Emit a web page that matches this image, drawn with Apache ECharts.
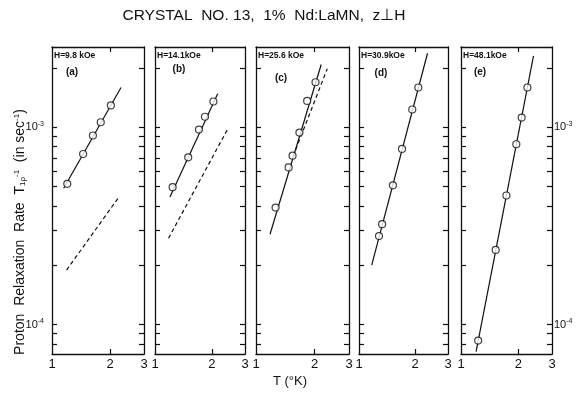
<!DOCTYPE html>
<html>
<head>
<meta charset="utf-8">
<script src="https://cdn.jsdelivr.net/npm/echarts@6/dist/echarts.min.js"></script>
<style>
  html, body { margin: 0; padding: 0; background: #fff; }
  #chart { width: 578px; height: 394px; }
</style>
</head>
<body>
<div id="chart"></div>
<script>
// panel captions
const fields = ['H=9.8 kOe', 'H=14.1kOe', 'H=25.6 kOe', 'H=30.9kOe', 'H=48.1kOe'];
const letters = ['(a)', '(b)', '(c)', '(d)', '(e)'];

// measured points: T (K) and rate (sec^-1)
const tempA = [1.20, 1.45, 1.63, 1.79, 2.02];
const rateA = [5.17e-4, 7.32e-4, 9.08e-4, 1.06e-3, 1.29e-3];
const tempB = [1.24, 1.50, 1.71, 1.84, 2.04];
const rateB = [4.97e-4, 7.04e-4, 9.73e-4, 1.13e-3, 1.35e-3];
const tempC = [1.26, 1.47, 1.54, 1.67, 1.83, 2.02];
const rateC = [3.92e-4, 6.26e-4, 7.18e-4, 9.40e-4, 1.36e-3, 1.69e-3];
const tempD = [1.28, 1.33, 1.52, 1.70, 1.93, 2.08];
const rateD = [2.81e-4, 3.23e-4, 5.08e-4, 7.77e-4, 1.23e-3, 1.59e-3];
const tempE = [1.23, 1.52, 1.73, 1.95, 2.08, 2.23];
const rateE = [8.3e-5, 2.39e-4, 4.51e-4, 8.20e-4, 1.12e-3, 1.59e-3];

// solid fitted lines (end points)
const fitTempA = [1.15, 2.28], fitRateA = [4.91e-4, 1.59e-3];
const fitTempB = [1.20, 2.15], fitRateB = [4.43e-4, 1.48e-3];
const fitTempC = [1.18, 2.16], fitRateC = [2.87e-4, 2.08e-3];
const fitTempD = [1.17, 2.33], fitRateD = [2.00e-4, 2.37e-3];
const fitTempE = [1.20, 2.40], fitRateE = [7.3e-5, 2.30e-3];

// dashed lines (end points)
const dashTempA = [1.19, 2.23], dashRateA = [1.89e-4, 4.45e-4];
const dashTempB = [1.18, 2.42], dashRateB = [2.74e-4, 9.73e-4];
const dashTempC = [1.55, 2.32], dashRateC = [7.12e-4, 1.98e-3];

// axis ticks / labels
const yTicks = [8e-5, 9e-5, 1e-4, 2e-4, 3e-4, 4e-4, 5e-4, 6e-4, 7e-4, 8e-4, 9e-4, 1e-3, 2e-3];
const yLabels = [1e-4, 1e-3];
const xTicks = [2];
const xLabels = [1, 2, 3];

function pairs(xs, ys) {
	return xs.map((x, i) => [x, ys[i]]);
}

const panels = [
	{ pts: pairs(tempA, rateA), fit: pairs(fitTempA, fitRateA), dash: pairs(dashTempA, dashRateA) },
	{ pts: pairs(tempB, rateB), fit: pairs(fitTempB, fitRateB), dash: pairs(dashTempB, dashRateB) },
	{ pts: pairs(tempC, rateC), fit: pairs(fitTempC, fitRateC), dash: pairs(dashTempC, dashRateC) },
	{ pts: pairs(tempD, rateD), fit: pairs(fitTempD, fitRateD), dash: null },
	{ pts: pairs(tempE, rateE), fit: pairs(fitTempE, fitRateE), dash: null }
];

// layout of the five boxes
const lefts = [52, 155, 256, 359, 461];
const widths = [92, 90, 93, 89, 91];
const boxTop = 47, boxBottom = 40;
const letterX = [20, 24, 25, 22, 19];
const letterY = [72, 69, 78, 73, 72];

const ink = '#111';
const font = 'Liberation Sans';

let myChart = echarts.init(document.getElementById('chart'));

let grids = [], xAxes = [], yAxes = [], series = [], graphics = [];

const supRich = {
	b: { fontSize: 11, color: ink, fontFamily: font },
	s: { fontSize: 7, color: ink, fontFamily: font, padding: [0, 0, 7, 0] }
};

panels.forEach((p, i) => {
	grids.push({
		left: lefts[i], width: widths[i], top: boxTop, bottom: boxBottom,
		containLabel: false, outerBoundsMode: 'none'
	});
	['bottom', 'top'].forEach(pos => {
		xAxes.push({
			type: 'log', logBase: 3, min: 1, max: 3, gridIndex: i, position: pos,
			axisLine: { show: true, lineStyle: { color: ink, width: 1.3 } },
			axisTick: { show: true, inside: true, length: 5, customValues: xTicks, lineStyle: { color: ink, width: 1.2 } },
			axisLabel: {
				show: pos === 'bottom', customValues: xLabels, margin: 4,
				fontSize: 13, color: ink, fontFamily: font,
				formatter: v => String(Math.round(v))
			},
			splitLine: { show: false },
			minorTick: { show: false }
		});
	});
	['left', 'right'].forEach(pos => {
		const showLab = (pos === 'left' && i === 0) || (pos === 'right' && i === 4);
		yAxes.push({
			type: 'log', logBase: 10, min: 7.1e-5, max: 2.55e-3, gridIndex: i, position: pos,
			axisLine: { show: true, lineStyle: { color: ink, width: 1.3 } },
			axisTick: { show: true, inside: true, length: 5, customValues: yTicks, lineStyle: { color: ink, width: 1.2 } },
			axisLabel: {
				show: showLab, customValues: yLabels, margin: pos === 'left' ? 8 : 2,
				formatter: v => '{b|10}{s|' + Math.round(Math.log10(v)) + '}',
				rich: supRich
			},
			splitLine: { show: false },
			minorTick: { show: false }
		});
	});

	series.push({
		type: 'line', xAxisIndex: 2 * i, yAxisIndex: 2 * i, data: p.fit,
		showSymbol: false, silent: true, z: 2,
		lineStyle: { color: ink, width: 1.2 }
	});
	if (p.dash) {
		series.push({
			type: 'line', xAxisIndex: 2 * i, yAxisIndex: 2 * i, data: p.dash,
			showSymbol: false, silent: true, z: 2,
			lineStyle: { color: ink, width: 1.2, type: [4, 3] }
		});
	}
	series.push({
		type: 'scatter', xAxisIndex: 2 * i, yAxisIndex: 2 * i, data: p.pts,
		symbol: 'circle', symbolSize: 7, z: 3,
		itemStyle: { color: '#fff', borderColor: ink, borderWidth: 1.2 }
	});

	graphics.push({
		type: 'text', left: lefts[i] + 2, top: boxTop + 4,
		style: { text: fields[i], fontSize: 8.5, fontWeight: 'bold', fill: ink, fontFamily: font }
	});
	graphics.push({
		type: 'text', x: lefts[i] + letterX[i], y: letterY[i],
		style: { text: letters[i], fontSize: 10, fontWeight: 'bold', fill: ink, fontFamily: font,
			align: 'center', verticalAlign: 'middle' }
	});
});

// title, axis names
graphics.push({
	type: 'text', x: 264, y: 16,
	style: { text: 'CRYSTAL  NO. 13,  1%  Nd:LaMN,  z\u22A5H', fontSize: 15.5, fill: ink, fontFamily: font,
		align: 'center', verticalAlign: 'middle' }
});
graphics.push({
	type: 'text', x: 290, y: 381,
	style: { text: 'T (\u00B0K)', fontSize: 13, fill: ink, fontFamily: font,
		align: 'center', verticalAlign: 'middle' }
});
graphics.push({
	type: 'text', x: 20, y: 232, rotation: Math.PI / 2,
	style: {
		text: 'Proton  Relaxation  Rate  {t|T}{sub|1\u03C1}{sup|-1}  (in sec{sup|-1})',
		fontSize: 14, fill: ink, fontFamily: font, align: 'center', verticalAlign: 'middle',
		rich: {
			t: { fontSize: 14, fontFamily: font },
			sub: { fontSize: 8, fontFamily: font, padding: [6, 0, 0, 0] },
			sup: { fontSize: 8, fontFamily: font, padding: [0, 0, 7, 0] }
		}
	}
});

let option = {
	backgroundColor: '#fff',
	animation: false,
	grid: grids,
	xAxis: xAxes,
	yAxis: yAxes,
	series: series,
	graphic: graphics
};

myChart.setOption(option);
</script>
</body>
</html>
